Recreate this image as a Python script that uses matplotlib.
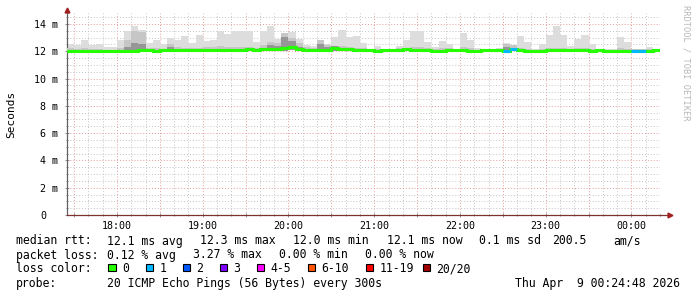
import numpy as np
import matplotlib
matplotlib.use("Agg")
import matplotlib.pyplot as plt
import matplotlib.dates as mdates
from matplotlib.patches import Rectangle
from matplotlib.ticker import MultipleLocator, FuncFormatter
from datetime import datetime, timedelta

# ---------------- data (ms), one value per 5-minute step ----------------
start_time = datetime(2026, 4, 8, 17, 25)
step_minutes = 5

median_ms = [12.00, 12.00, 12.00, 12.00, 12.00, 12.00, 12.00, 12.00, 12.00, 12.00,
             12.10, 12.10, 12.05, 12.06, 12.10, 12.10, 12.09, 12.10, 12.10, 12.11,
             12.10, 12.11, 12.12, 12.12, 12.12, 12.13, 12.12, 12.14, 12.17, 12.17,
             12.22, 12.29, 12.17, 12.12, 12.12, 12.12, 12.10, 12.27, 12.17, 12.17,
             12.12, 12.12, 12.07, 12.02, 12.12, 12.12, 12.12, 12.17, 12.10, 12.10,
             12.10, 12.05, 12.05, 12.12, 12.12, 12.10, 12.02, 12.02, 12.12, 12.12,
             12.07, 12.05, 12.15, 12.07, 12.02, 12.02, 12.05, 12.10, 12.12, 12.10,
             12.07, 12.12, 12.10, 12.05, 12.12, 12.02, 12.05, 12.02, 12.02, 12.00,
             12.00, 12.05, 12.12]

smoke_max = [12.54, 12.45, 12.85, 12.49, 12.54, 12.34, 12.29, 12.83, 13.49, 13.88,
             13.56, 12.61, 12.85, 12.54, 12.98, 12.85, 13.15, 12.61, 13.22, 12.78,
             12.85, 13.49, 13.29, 13.49, 13.49, 13.49, 12.71, 13.46, 13.88, 12.92,
             13.36, 13.44, 12.90, 12.46, 12.38, 12.85, 12.56, 13.02, 13.59, 13.05,
             13.15, 12.63, 12.17, 12.41, 12.17, 12.17, 12.41, 12.83, 13.46, 13.49,
             12.71, 12.34, 12.78, 12.54, 12.17, 13.37, 12.83, 12.24, 12.17, 12.17,
             12.24, 12.63, 12.49, 13.15, 12.71, 12.17, 12.54, 13.22, 13.88, 13.22,
             12.41, 12.90, 13.22, 12.56, 12.17, 12.17, 12.17, 13.05, 12.71, 12.17,
             12.17, 12.34, 12.17]

smoke_mid = [12.20, 12.15, 12.20, 12.15, 12.15, 12.10, 12.10, 12.25, 12.80, 13.45,
             13.40, 12.25, 12.20, 12.15, 12.50, 12.30, 12.25, 12.20, 12.25, 12.30,
             12.30, 12.40, 12.30, 12.30, 12.30, 12.30, 12.25, 12.45, 12.70, 12.60,
             13.30, 13.00, 12.60, 12.30, 12.25, 12.80, 12.45, 12.40, 12.40, 12.30,
             12.25, 12.20, 12.15, 12.15, 12.15, 12.15, 12.20, 12.25, 12.30, 12.30,
             12.20, 12.15, 12.20, 12.20, 12.15, 12.30, 12.20, 12.10, 12.15, 12.15,
             12.15, 12.55, 12.45, 12.20, 12.15, 12.10, 12.15, 12.20, 12.25, 12.20,
             12.15, 12.20, 12.25, 12.15, 12.15, 12.10, 12.10, 12.20, 12.15, 12.15,
             12.15, 12.15, 12.15]

smoke_core = [12.05, 12.05, 12.05, 12.05, 12.05, 12.04, 12.04, 12.06, 12.30, 12.60,
              12.50, 12.15, 12.10, 12.10, 12.30, 12.15, 12.14, 12.14, 12.15, 12.16,
              12.15, 12.18, 12.16, 12.16, 12.16, 12.17, 12.16, 12.25, 12.45, 12.35,
              13.05, 12.75, 12.30, 12.16, 12.16, 12.50, 12.30, 12.35, 12.25, 12.21,
              12.16, 12.16, 12.11, 12.06, 12.16, 12.16, 12.16, 12.21, 12.15, 12.15,
              12.14, 12.09, 12.09, 12.16, 12.16, 12.15, 12.06, 12.06, 12.16, 12.16,
              12.11, 12.30, 12.25, 12.11, 12.06, 12.06, 12.09, 12.14, 12.16, 12.14,
              12.11, 12.16, 12.14, 12.09, 12.16, 12.06, 12.09, 12.06, 12.06, 12.05,
              12.05, 12.09, 12.16]

smoke_min = [11.92, 11.93, 11.93, 11.94, 11.93, 11.94, 11.94, 11.93, 11.92, 11.92,
             11.98, 11.99, 11.95, 11.96, 11.92, 12.00, 11.99, 12.00, 11.98, 12.00,
             11.99, 12.00, 12.01, 12.00, 12.01, 12.02, 12.00, 12.02, 12.03, 12.02,
             12.05, 12.08, 12.04, 12.00, 12.00, 12.00, 11.98, 12.05, 12.04, 12.04,
             12.00, 12.00, 11.96, 11.92, 12.00, 12.00, 12.01, 12.04, 11.99, 11.98,
             11.99, 11.94, 11.93, 12.00, 12.01, 11.98, 11.92, 11.91, 12.01, 12.00,
             11.96, 11.93, 12.02, 11.96, 11.91, 11.92, 11.94, 11.98, 12.00, 11.99,
             11.96, 12.00, 11.98, 11.93, 12.00, 11.92, 11.94, 11.91, 11.92, 11.90,
             11.90, 11.94, 12.00]

loss_count = [0] * 61 + [1, 1] + [0] * 16 + [1, 1] + [0, 0]

loss_labels = ["0", "1", "2", "3", "4-5", "6-10", "11-19", "20/20"]
loss_colors = ["#26ff00", "#00b8ff", "#0059ff", "#7e00ff", "#ff00ff",
               "#ff5500", "#ff0000", "#a10000"]

y_tick_values = [0, 2, 4, 6, 8, 10, 12, 14]

stats_rtt = [("median rtt:", 16), ("12.1 ms avg", 107), ("12.3 ms max", 200),
             ("12.0 ms min", 293), ("12.1 ms now", 387), ("0.1 ms sd", 479),
             ("200.5", 552), ("am/s", 613)]
stats_loss = [("packet loss:", 16), ("0.12 % avg", 107), ("3.27 % max", 193),
              ("0.00 % min", 279), ("0.00 % now", 365)]
probe_text = "20 ICMP Echo Pings (56 Bytes) every 300s"
date_text = "Thu Apr  9 00:24:48 2026"

# ---------------- figure ----------------
W, H = 697, 297
fig = plt.figure(figsize=(W / 100, H / 100), dpi=100)
fig.patch.set_facecolor("white")
MONO = "DejaVu Sans Mono"

ax_l, ax_r, ax_b, ax_t = 67, 660, 215, 13
ax = fig.add_axes([ax_l / W, 1 - ax_b / H, (ax_r - ax_l) / W, (ax_b - ax_t) / H])
ax.set_facecolor("white")

n = len(median_ms)
edges = [start_time + timedelta(minutes=step_minutes * i) for i in range(n + 1)]
xe = mdates.date2num(edges)

def ext(a):
    a = np.asarray(a, dtype=float)
    return np.append(a, a[-1])

ax.fill_between(xe, ext(smoke_min), ext(smoke_max), step="post",
                color="#dddddd", lw=0, zorder=2)
ax.fill_between(xe, ext(smoke_min), ext(smoke_mid), step="post",
                color="#c6c6c6", lw=0, zorder=3)
ax.fill_between(xe, ext(smoke_min), ext(smoke_core), step="post",
                color="#969696", lw=0, zorder=4)

ax.step(xe, ext(median_ms), where="post", color=loss_colors[0], lw=2.2,
        zorder=5, solid_capstyle="butt", solid_joinstyle="miter")

def loss_color(c):
    if c <= 3:
        return loss_colors[c]
    if c <= 5:
        return loss_colors[4]
    if c <= 10:
        return loss_colors[5]
    if c <= 19:
        return loss_colors[6]
    return loss_colors[7]

seg_colors = [loss_color(c) for c in loss_count]
ax.hlines(median_ms, xe[:-1], xe[1:], colors=seg_colors, lw=2.2, zorder=6)

ax.set_xlim(xe[0], xe[-1])
ax.set_ylim(0, 14.8)

# x axis
ax.xaxis.set_major_locator(mdates.MinuteLocator(byminute=[0, 30]))
ax.xaxis.set_minor_locator(mdates.MinuteLocator(byminute=range(0, 60, 10)))
def xfmt(v, pos):
    d = mdates.num2date(v)
    return "" if d.minute != 0 else d.strftime("%H:%M")
ax.xaxis.set_major_formatter(FuncFormatter(xfmt))

# y axis
ax.yaxis.set_minor_locator(MultipleLocator(0.5))
ax.set_yticks(y_tick_values)
ax.set_yticklabels([("%d m" % v) if v else "0" for v in y_tick_values])

ax.grid(which="minor", color="#c4c4c4", lw=0.7, ls=(0, (1, 2)), zorder=1)
ax.grid(which="major", color="#e59a9a", lw=0.7, ls=(0, (1, 2)), zorder=1)
ax.set_axisbelow(True)

ax.tick_params(axis="both", which="both", labelsize=7.2, colors="#808080",
               labelcolor="black", direction="inout")
ax.tick_params(axis="both", which="major", length=3, width=0.6)
ax.tick_params(axis="both", which="minor", length=2, width=0.6)
ax.tick_params(axis="x", which="major", pad=3)
ax.tick_params(axis="y", which="major", pad=5)
for lbl in ax.get_xticklabels() + ax.get_yticklabels():
    lbl.set_fontfamily(MONO)

for s in ["top", "right"]:
    ax.spines[s].set_visible(False)
ax.spines["left"].set_color("#606060")
ax.spines["left"].set_linewidth(0.9)
ax.spines["bottom"].set_color("#7f3131")
ax.spines["bottom"].set_linewidth(0.9)

# axis extensions and arrows
ax.plot([1, 1 + 8 / (ax_r - ax_l)], [0, 0], transform=ax.transAxes,
        color="#7f3131", lw=0.9, clip_on=False, zorder=7)
ax.plot([1 + 10 / (ax_r - ax_l)], [0], transform=ax.transAxes, marker=">",
        ms=3.5, color="#a02020", clip_on=False, zorder=7)
ax.plot([0, 0], [1, 1 + 3 / (ax_b - ax_t)], transform=ax.transAxes,
        color="#606060", lw=0.9, clip_on=False, zorder=7)
ax.plot([0], [1 + 3 / (ax_b - ax_t)], transform=ax.transAxes, marker="^",
        ms=3.5, color="#a02020", clip_on=False, zorder=7)

ax.set_ylabel("Seconds", fontfamily=MONO, fontsize=8)
ax.yaxis.set_label_coords(-(ax_l - 16) / (ax_r - ax_l), 0.5)

# right-side credit
fig.text(686 / W, 1 - 5 / H, "RRDTOOL / TOBI OETIKER", rotation=270,
         fontfamily=MONO, fontsize=6.2, color="#b8b8b8", ha="center", va="top")

# ---------------- legend text ----------------
LS = 8.3
def ftext(x, y, s, **kw):
    fig.text(x / W, 1 - y / H, s, fontfamily=MONO, fontsize=LS, va="center", **kw)

for s, x in stats_rtt:
    ftext(x, 241, s)
for s, x in stats_loss:
    ftext(x, 255, s)

ftext(16, 268.5, "loss color:")
box_x = [108, 145.5, 182.5, 219.5, 256.5, 307.5, 365.5, 422.5]
txt_x = [122.5, 159.5, 196.5, 233.5, 270.5, 321.5, 379.5, 436.5]
for lab, col, bx, tx in zip(loss_labels, loss_colors, box_x, txt_x):
    fig.add_artist(Rectangle((bx / W, 1 - 271 / H), 7.5 / W, 7.5 / H,
                             transform=fig.transFigure, facecolor=col,
                             edgecolor="black", lw=0.8))
    ftext(tx, 268.5, lab)

ftext(16, 283, "probe:")
ftext(107, 283, probe_text)
ftext(680, 283, date_text, ha="right")

# zero label sits further left (rrdtool pads it like " 0  ")
zero_lbl = ax.yaxis.get_major_ticks()[0].label1
zero_lbl.set_x(-12 / (ax_r - ax_l))

fig.savefig("out.png", dpi=100, facecolor="white")
